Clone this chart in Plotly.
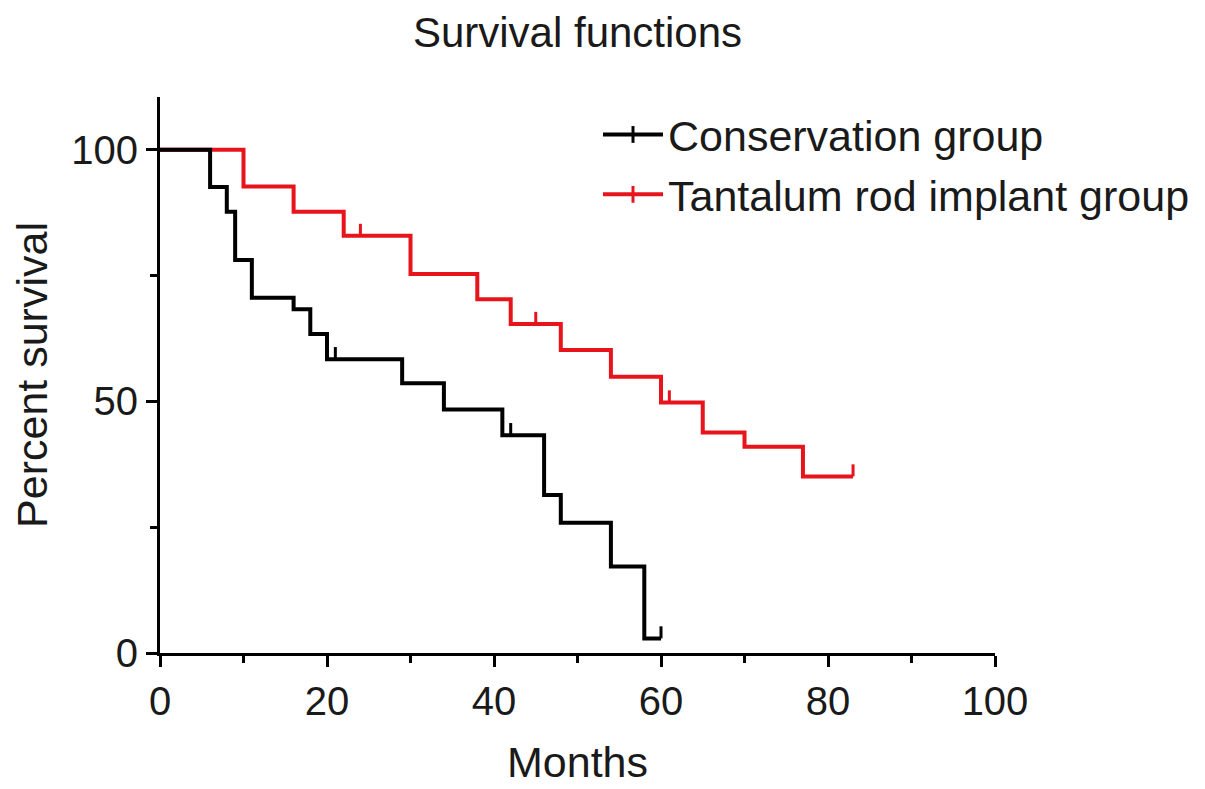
import numpy as np
import plotly.graph_objects as go

# Conservation group (black)
cons_event_months = [6, 8, 9, 11, 16, 18, 20, 29, 34, 41, 46, 48, 54, 58]
cons_survival = [92.6, 87.7, 78.1, 70.6, 68.3, 63.4, 58.4, 53.6, 48.4, 43.3, 31.4, 25.9, 17.2, 2.9]
cons_censor_months = [21, 42, 60]
cons_end = 60

# Tantalum rod implant group (red)
tan_event_months = [10, 16, 22, 30, 38, 42, 48, 54, 60, 65, 70, 77]
tan_survival = [92.7, 87.7, 82.9, 75.3, 70.3, 65.4, 60.2, 54.9, 49.8, 43.8, 41.0, 35.1]
tan_censor_months = [24, 45, 61, 83]
tan_end = 83

x_ticks = [0, 20, 40, 60, 80, 100]
y_ticks = [0, 50, 100]

FONT = "Liberation Sans, Arial, Helvetica, sans-serif"
BLACK = "#000000"
RED = "#e8141c"
TICK_H = 2.4

ML, MR, MT, MB = 152, 218, 89, 144
PW = 1205 - ML - MR
PH = 789 - MT - MB


def step_xy(times, surv, end):
    x = [0] + list(times) + [end]
    y = [100] + list(surv) + [surv[-1]]
    return x, y


def censor_xy(times, surv, censors):
    t = np.array(times, dtype=float)
    s = np.array([100] + list(surv), dtype=float)
    xs, ys = [], []
    for c in censors:
        lvl = s[np.searchsorted(t, c, side="right")]
        xs += [c, c, None]
        ys += [lvl, lvl + TICK_H, None]
    return xs, ys


fig = go.Figure()

for times, surv, end, cens, color in [
    (tan_event_months, tan_survival, tan_end, tan_censor_months, RED),
    (cons_event_months, cons_survival, cons_end, cons_censor_months, BLACK),
]:
    sx, sy = step_xy(times, surv, end)
    fig.add_trace(go.Scatter(x=sx, y=sy, mode="lines", line=dict(color=color, width=4, shape="hv"),
                             showlegend=False, hoverinfo="skip"))
    cx, cy = censor_xy(times, surv, cens)
    fig.add_trace(go.Scatter(x=cx, y=cy, mode="lines", line=dict(color=color, width=3),
                             showlegend=False, hoverinfo="skip"))

for name, color, rank in [("Conservation group", BLACK, 1), ("Tantalum rod implant group", RED, 2)]:
    fig.add_trace(go.Scatter(x=[None], y=[None], mode="lines+markers", name=name,
                             legendrank=rank, legendgroup=name,
                             line=dict(color=color, width=4),
                             marker=dict(symbol="line-ns", size=12, color=color,
                                         line=dict(width=3, color=color))))

fig.update_layout(
    width=1205, height=789,
    margin=dict(l=ML, r=MR, t=MT, b=MB, autoexpand=False),
    paper_bgcolor="white", plot_bgcolor="white",
    font=dict(family=FONT, size=40, color="#1a1a1a"),
    title=dict(text="Survival functions", x=(ML + PW / 2) / 1205, xanchor="center",
               y=1 - 24 / 789, yanchor="middle", font=dict(size=42, color="#1a1a1a")),
    legend=dict(x=(590 - ML) / PW, xanchor="left", y=1 - 3 / PH, yanchor="top",
                bgcolor="rgba(0,0,0,0)", font=dict(size=43, color="#1a1a1a"),
                tracegroupgap=1, itemwidth=60),
    xaxis=dict(range=[0, 100], tickvals=x_ticks, ticktext=[str(v) for v in x_ticks],
               automargin=False,
               showgrid=False, zeroline=False, showline=True, linecolor=BLACK, linewidth=3,
               ticks="outside", ticklen=11, tickwidth=3, tickcolor=BLACK,
               minor=dict(dtick=10, tick0=0, ticks="outside", ticklen=7, tickwidth=3, tickcolor=BLACK),
               title=dict(text="Months", standoff=25, font=dict(size=43)),
               tickfont=dict(size=40)),
    yaxis=dict(range=[0, 110.5], tickvals=y_ticks, ticktext=[str(v) for v in y_ticks],
               automargin=False,
               showgrid=False, zeroline=False, showline=True, linecolor=BLACK, linewidth=3,
               ticks="outside", ticklen=11, tickwidth=3, tickcolor=BLACK,
               minor=dict(dtick=25, tick0=0, ticks="outside", ticklen=7, tickwidth=3, tickcolor=BLACK),
               title=dict(text="Percent survival", standoff=25, font=dict(size=43)),
               tickfont=dict(size=40)),
)

fig.write_html("out.html")
